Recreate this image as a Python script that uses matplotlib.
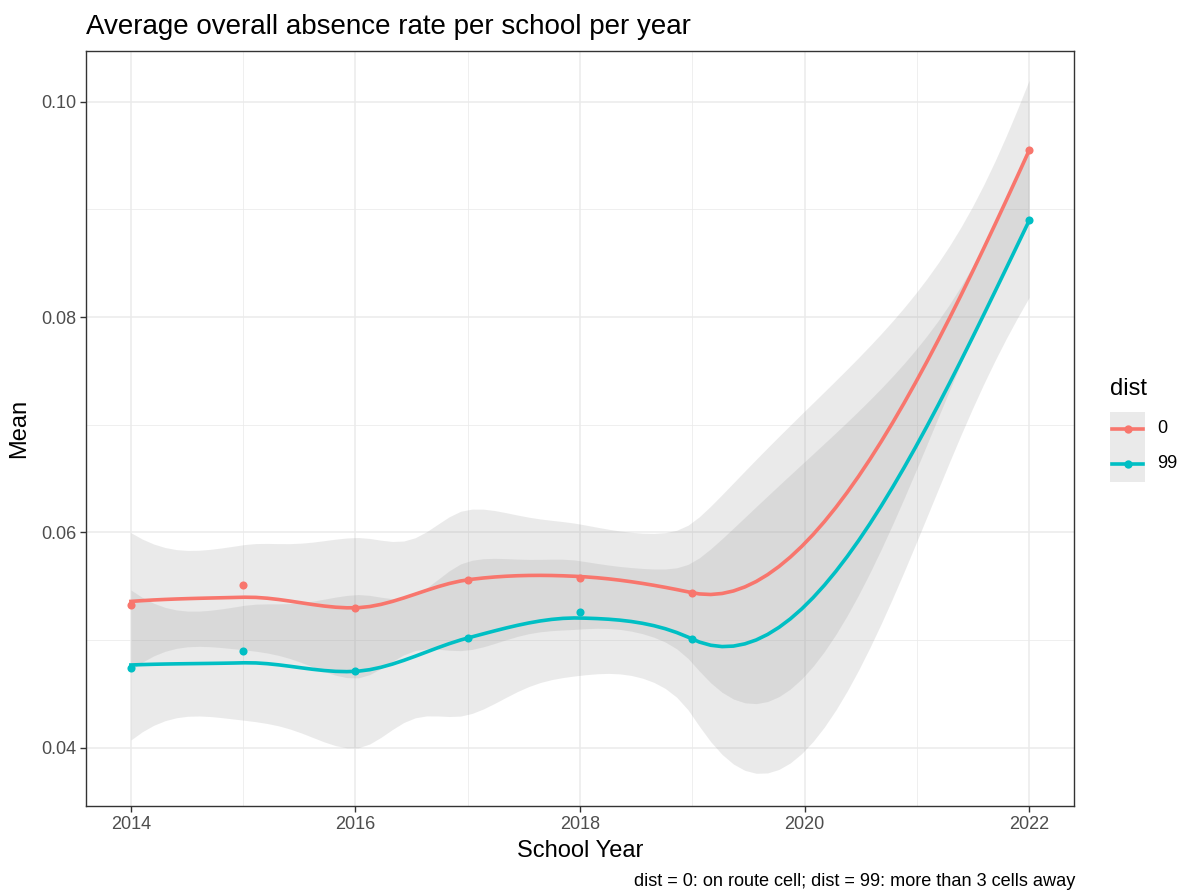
import math
import numpy as np
import matplotlib
matplotlib.use("Agg")
import matplotlib.pyplot as plt
from matplotlib.lines import Line2D
from matplotlib.patches import Rectangle

# yearly means
years = [2014, 2015, 2016, 2017, 2018, 2019, 2022]
mean_dist0 = [0.0533, 0.0551, 0.0530, 0.0556, 0.0558, 0.0544, 0.0955]
mean_dist99 = [0.0474, 0.0490, 0.0471, 0.0502, 0.0526, 0.0501, 0.0890]
groups = ["0", "99"]
colors = ["#F8766D", "#00BFC4"]

W, H = 1185, 891


def kd_vertices(x, span=0.75, cell=0.2):
    """Vertices of the loess kd tree (1-d, median splits)."""
    xs = np.sort(x)
    n = len(xs)
    fc = int(np.floor(n * span * cell))
    mu = 0.005 * (xs[-1] - xs[0])
    lo, hi = xs[0] - mu, xs[-1] + mu
    verts = {lo, hi}

    def split(l, u, vlo, vhi):
        if u - l + 1 <= fc:
            return
        m = (l + u) // 2
        t = xs[m]
        if t == vlo or t == vhi:
            return
        verts.add(t)
        split(l, m, vlo, t)
        split(m + 1, u, t, vhi)

    split(0, n - 1, lo, hi)
    return np.array(sorted(verts))


def local_rows(x, x0, span=0.75):
    """Rows of the local quadratic fit at x0: value and slope."""
    n = len(x)
    q = int(np.floor(n * span))
    d = np.abs(x - x0)
    h = np.sort(d)[q - 1]
    u = np.clip(d / h, 0, 1)
    w = (1 - u ** 3) ** 3
    X = np.column_stack([np.ones(n), x - x0, (x - x0) ** 2])
    XtW = X.T * w
    B = np.linalg.solve(XtW @ X, XtW)
    return B[0], B[1]


def loess_operator(x, xnew, span=0.75):
    """Operator of loess with surface = 'interpolate' (cubic Hermite)."""
    v = kd_vertices(x, span)
    vals, slopes = zip(*[local_rows(x, vv, span) for vv in v])
    vals, slopes = np.array(vals), np.array(slopes)
    L = np.zeros((len(xnew), len(x)))
    for i, xx in enumerate(xnew):
        j = min(max(np.searchsorted(v, xx) - 1, 0), len(v) - 2)
        a, b = v[j], v[j + 1]
        hh = b - a
        t = (xx - a) / hh
        h00 = 2 * t ** 3 - 3 * t ** 2 + 1
        h10 = t ** 3 - 2 * t ** 2 + t
        h01 = -2 * t ** 3 + 3 * t ** 2
        h11 = t ** 3 - t ** 2
        L[i] = (h00 * vals[j] + h10 * hh * slopes[j]
                + h01 * vals[j + 1] + h11 * hh * slopes[j + 1])
    return L


def t_quantile(p, df):
    c = math.exp(math.lgamma((df + 1) / 2) - math.lgamma(df / 2)) / math.sqrt(df * math.pi)

    def cdf(t):
        grid = np.linspace(0, t, 2001)
        pdf = c * (1 + grid ** 2 / df) ** (-(df + 1) / 2)
        return 0.5 + np.trapezoid(pdf, grid)

    lo, hi = 0.0, 50.0
    for _ in range(60):
        mid = (lo + hi) / 2
        if cdf(mid) < p:
            lo = mid
        else:
            hi = mid
    return (lo + hi) / 2


def smooth(x, y, n_out=80):
    x = np.asarray(x, float)
    y = np.asarray(y, float)
    xs = np.linspace(x.min(), x.max(), n_out)
    L = loess_operator(x, xs)
    Lx = loess_operator(x, x)
    fit = L @ y
    res = y - Lx @ y
    M = np.eye(len(x)) - Lx
    MM = M.T @ M
    one_delta = np.trace(MM)
    two_delta = np.trace(MM @ MM)
    s = np.sqrt(np.sum(res ** 2) / one_delta)
    se = s * np.sqrt(np.sum(L ** 2, axis=1))
    tq = t_quantile(0.975, one_delta ** 2 / two_delta)
    return xs, fit, fit - tq * se, fit + tq * se


plt.rcParams["font.family"] = ["Liberation Sans", "DejaVu Sans"]

fig = plt.figure(figsize=(W / 100, H / 100), dpi=100)
ax = fig.add_axes([86 / W, 1 - 806 / H, (1074 - 86) / W, (806 - 51) / H])

ax.set_xlim(2013.6, 2022.4)
ax.set_ylim(0.0346, 0.1047)
ax.set_xticks([2014, 2016, 2018, 2020, 2022])
ax.set_xticks([2015, 2017, 2019, 2021], minor=True)
ax.set_yticks([0.04, 0.06, 0.08, 0.10])
ax.set_yticks([0.05, 0.07, 0.09], minor=True)
ax.set_yticklabels(["0.04", "0.06", "0.08", "0.10"])
ax.grid(which="major", color="#EBEBEB", linewidth=1.1, zorder=0)
ax.grid(which="minor", color="#EBEBEB", linewidth=0.55, zorder=0)
ax.set_axisbelow(True)
for sp in ax.spines.values():
    sp.set_color("#333333")
    sp.set_linewidth(1.0)
ax.tick_params(which="major", length=4, width=1.0, color="#333333",
               labelsize=13, labelcolor="#4D4D4D", pad=3)
ax.tick_params(which="minor", length=0)

band_col, band_alpha = "#999999", 0.2
for vals, col in zip([mean_dist0, mean_dist99], colors):
    xs, fit, lo, hi = smooth(years, vals)
    ax.fill_between(xs, lo, hi, color=band_col, alpha=band_alpha, linewidth=0, zorder=2)
    ax.plot(xs, fit, color=col, linewidth=2.6, zorder=3)
    ax.scatter(years, vals, color=col, s=34, zorder=4, linewidths=0)

ax.set_xlabel("School Year", fontsize=17, labelpad=5)
ax.set_ylabel("Mean", fontsize=17, labelpad=8)

fig.text(86 / W, 1 - 34 / H, "Average overall absence rate per school per year",
         fontsize=20, ha="left", va="baseline")
fig.text(1075 / W, 1 - 886 / H,
         "dist = 0: on route cell; dist = 99: more than 3 cells away",
         fontsize=13.1, ha="right", va="baseline")

# legend drawn by hand, ggplot style
fig.text(1110 / W, 1 - 395 / H, "dist", fontsize=17, ha="left", va="baseline")
key_top = 412
for i, (lab, col) in enumerate(zip(groups, colors)):
    y0 = key_top + i * 35
    fig.add_artist(Rectangle((1110 / W, 1 - (y0 + 35) / H), 35 / W, 35 / H,
                             transform=fig.transFigure, facecolor=band_col,
                             alpha=band_alpha, edgecolor="none"))
    yc = 1 - (y0 + 17) / H
    fig.add_artist(Line2D([1112 / W, 1143 / W], [yc, yc], color=col,
                          linewidth=2.6, transform=fig.transFigure))
    fig.add_artist(Line2D([1127.5 / W], [yc], color=col, marker="o",
                          markersize=6, markeredgewidth=0,
                          transform=fig.transFigure))
    fig.text(1157 / W, yc, lab, fontsize=13, ha="left", va="center")

fig.savefig("out.png", dpi=100)
